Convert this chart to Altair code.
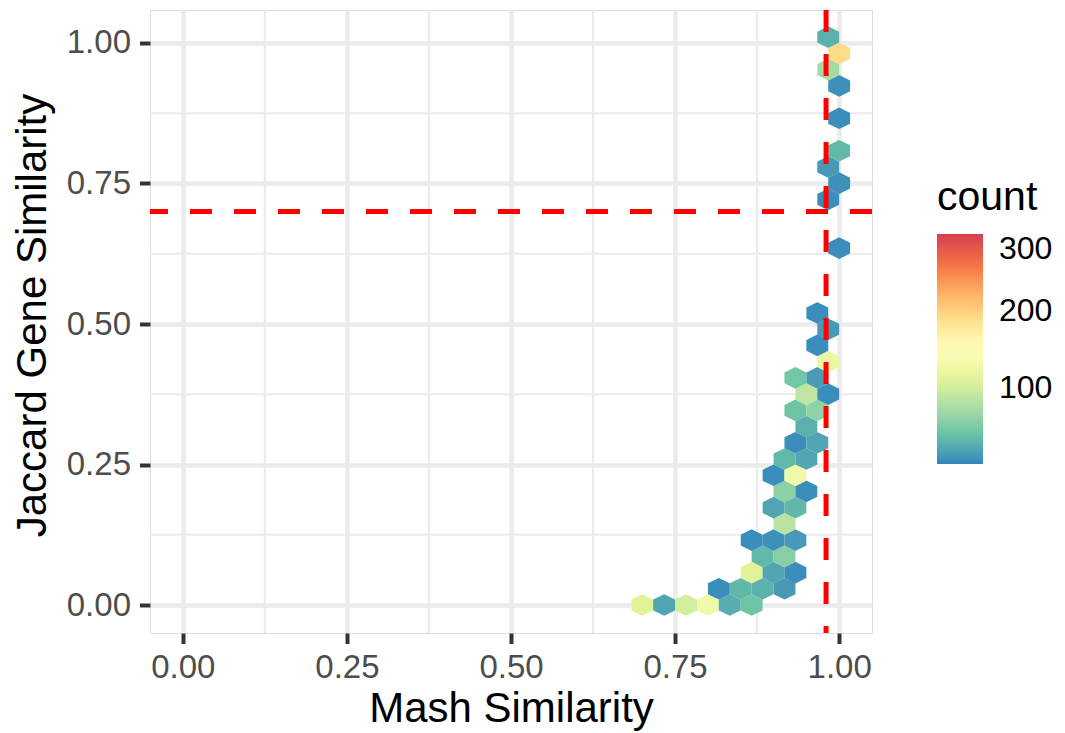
import altair as alt
import pandas as pd

# ---- data (hexbin centres) ----
mash = [0.7000, 0.7333, 0.7667, 0.8000, 0.8333, 0.8667,
        0.8167, 0.8500, 0.8833, 0.9167,
        0.8667, 0.9000, 0.9333,
        0.8833, 0.9167,
        0.8667, 0.9000, 0.9333,
        0.9167,
        0.9000, 0.9333,
        0.9167, 0.9500,
        0.9000, 0.9333,
        0.9167, 0.9500,
        0.9333, 0.9667,
        0.9500,
        0.9333, 0.9667,
        0.9500, 0.9833,
        0.9333, 0.9667,
        0.9833,
        0.9667,
        0.9833,
        0.9667,
        1.0000,
        0.9833,
        1.0000,
        0.9833,
        1.0000,
        1.0000,
        1.0000,
        0.9833,
        1.0000,
        0.9833]
jaccard = [0.0, 0.0, 0.0, 0.0, 0.0, 0.0,
           0.0289, 0.0289, 0.0289, 0.0289,
           0.0577, 0.0577, 0.0577,
           0.0866, 0.0866,
           0.1155, 0.1155, 0.1155,
           0.1443,
           0.1732, 0.1732,
           0.2021, 0.2021,
           0.2309, 0.2309,
           0.2598, 0.2598,
           0.2887, 0.2887,
           0.3175,
           0.3464, 0.3464,
           0.3753, 0.3753,
           0.4041, 0.4041,
           0.4330,
           0.4619,
           0.4907,
           0.5196,
           0.6351,
           0.7217,
           0.7506,
           0.7794,
           0.8083,
           0.8660,
           0.9238,
           0.9526,
           0.9815,
           1.0104]
counts = [110, 20, 100, 130, 25, 42,
          5, 32, 28, 12,
          110, 20, 5,
          33, 55,
          5, 6, 12,
          85,
          20, 32,
          58, 5,
          5, 128,
          33, 20,
          5, 20,
          27,
          42, 60,
          88, 5,
          45, 14,
          122,
          5,
          12,
          5,
          5,
          5,
          6,
          12,
          33,
          5,
          6,
          72,
          192,
          27]

x_ticks = [0.0, 0.25, 0.5, 0.75, 1.0]
y_ticks = [0.0, 0.25, 0.5, 0.75, 1.0]
minor_ticks = [0.125, 0.375, 0.625, 0.875]
mash_cut = [0.98]
jaccard_cut = [0.70]
legend_values = [100, 200, 300]
count_range = [1, 300]
spectral_rev = ["#3288BD", "#66C2A5", "#ABDDA4", "#E6F598", "#FFFFBF",
                "#FEE08B", "#FDAE61", "#F46D43", "#D53E4F"]

hexes = pd.DataFrame({"mash": mash, "jaccard": jaccard, "count": counts})
minor = pd.DataFrame({"v": minor_ticks})
vcut = pd.DataFrame({"v": mash_cut})
hcut = pd.DataFrame({"v": jaccard_cut})

FONT = "Liberation Sans"
W, H = 722, 623
xscale = alt.Scale(domain=[-0.05, 1.05], nice=False, zero=False)
yscale = alt.Scale(domain=[-0.0498, 1.0587], nice=False, zero=False)

n = len(spectral_rev)
stops = [count_range[0] + i * (count_range[1] - count_range[0]) / (n - 1) for i in range(n)]
cscale = alt.Scale(domain=stops, range=spectral_rev, interpolate="lab")

HEX = "M0,-0.989L1,-0.4945L1,0.4945L0,0.989L-1,0.4945L-1,-0.4945Z"

xaxis = alt.Axis(values=x_ticks, format=".2f", grid=True, gridColor="#ebebeb", gridWidth=4.5,
                 domain=False, ticks=True, tickColor="#333333", tickWidth=4, tickSize=10.5,
                 labelFont=FONT, labelFontSize=33, labelColor="#4d4d4d", labelPadding=8,
                 labelFlush=False, title="Mash Similarity", titleFont=FONT, titleFontSize=42,
                 titleFontWeight="normal", titleColor="black", titleBaseline="alphabetic",
                 titleY=88)
yaxis = alt.Axis(values=y_ticks, format=".2f", grid=True, gridColor="#ebebeb", gridWidth=4.5,
                 domain=False, ticks=True, tickColor="#333333", tickWidth=4, tickSize=10.5,
                 labelFont=FONT, labelFontSize=33, labelColor="#4d4d4d", labelPadding=9,
                 labelFlush=False, title="Jaccard Gene Similarity", titleFont=FONT,
                 titleFontSize=42, titleFontWeight="normal", titleColor="black",
                 titleBaseline="alphabetic", titleX=-105, titleY=305, titleAngle=270)

minor_x = alt.Chart(minor).mark_rule(color="#ebebeb", strokeWidth=2.2).encode(
    x=alt.X("v:Q", scale=xscale, axis=xaxis))
minor_y = alt.Chart(minor).mark_rule(color="#ebebeb", strokeWidth=2.2).encode(
    y=alt.Y("v:Q", scale=yscale, axis=yaxis))

hex_layer = alt.Chart(hexes).mark_point(shape=HEX, filled=True, opacity=1, size=479,
                                        strokeWidth=0).encode(
    x=alt.X("mash:Q", scale=xscale, axis=xaxis),
    y=alt.Y("jaccard:Q", scale=yscale, axis=yaxis),
    color=alt.Color("count:Q", scale=cscale,
                    legend=alt.Legend(orient="none", legendX=787, legendY=168,
                                      direction="vertical", title="count",
                                      titleFont=FONT, titleFontSize=41,
                                      titleFontWeight="normal", titleColor="black",
                                      titlePadding=15, labelFont=FONT, labelFontSize=32,
                                      labelColor="black", labelOffset=16,
                                      values=legend_values, gradientLength=230,
                                      gradientThickness=46, gradientStrokeWidth=0,
                                      padding=0)),
)

vline = alt.Chart(vcut).mark_rule(color="#FF0000", strokeWidth=5, strokeDash=[22, 22]).encode(
    x=alt.X("v:Q", scale=xscale, axis=xaxis))
hline = alt.Chart(hcut).mark_rule(color="#FF0000", strokeWidth=5, strokeDash=[22, 22]).encode(
    y=alt.Y("v:Q", scale=yscale, axis=yaxis))

chart = alt.layer(minor_x, minor_y, hex_layer, hline, vline).properties(
    width=W, height=H,
    autosize=alt.AutoSizeParams(type="none"),
    padding={"left": 142, "top": 2, "right": 185, "bottom": 100},
).configure_view(stroke="#333333", strokeWidth=2.5).configure(background="white")

chart.save("out.html", embed_options={"renderer": "svg", "actions": False})
